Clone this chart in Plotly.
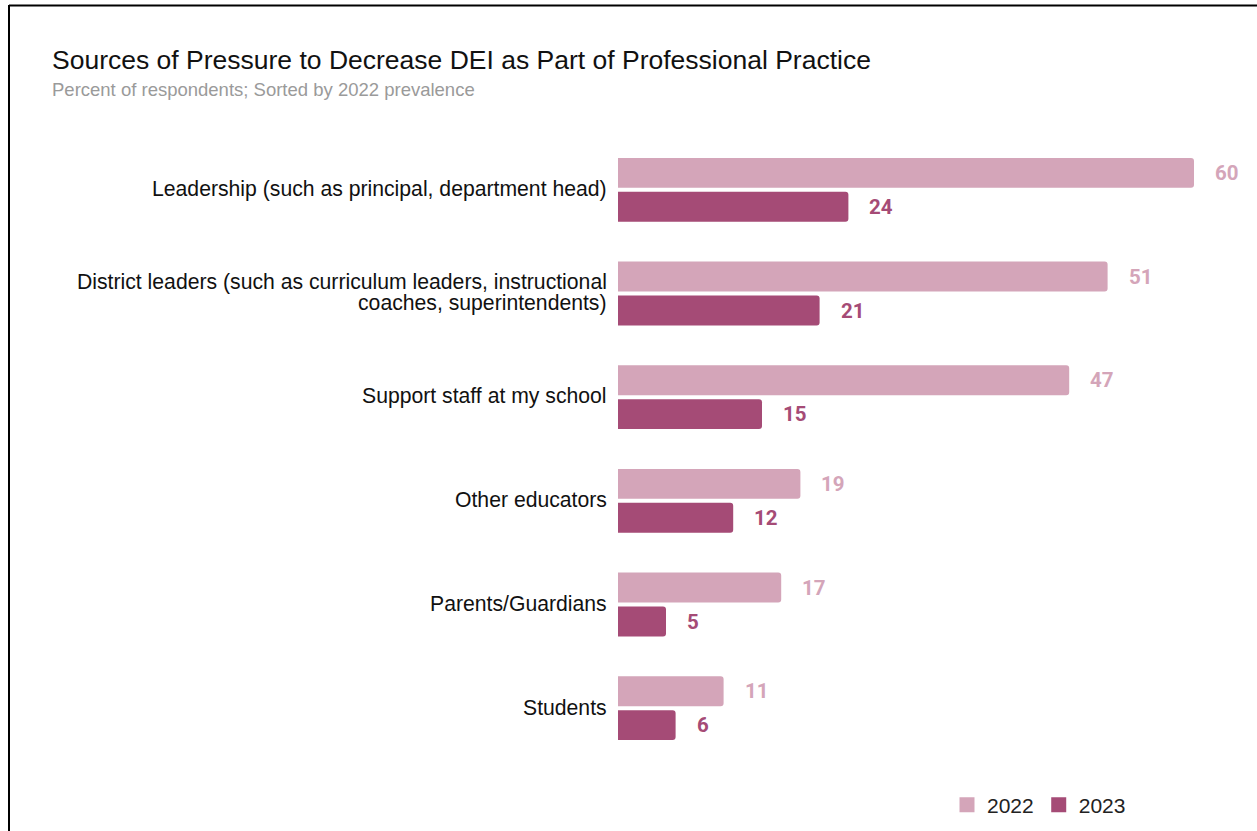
import plotly.graph_objects as go

# Survey data: share of respondents naming each source of pressure
categories = [
    "Leadership (such as principal, department head)",
    "District leaders (such as curriculum leaders, instructional<br>coaches, superintendents)",
    "Support staff at my school",
    "Other educators",
    "Parents/Guardians",
    "Students",
]
values_2022 = [60, 51, 47, 19, 17, 11]
values_2023 = [24, 21, 15, 12, 5, 6]
series_names = ["2022", "2023"]

COLOR_2022 = "#d4a5b9"
COLOR_2023 = "#a54b76"
SANS = "Liberation Sans, Arial, sans-serif"

W, H = 1257, 831
L, R, T, B = 618, 15, 138, 71
PW, PH = W - L - R, H - T - B


def px_x(px):
    return (px - L) / PW


def px_y(py):
    return (H - B - py) / PH


fig = go.Figure()
for name, vals, col in [
    (series_names[0], values_2022, COLOR_2022),
    (series_names[1], values_2023, COLOR_2023),
]:
    fig.add_trace(go.Bar(
        name=name,
        y=categories,
        x=vals,
        orientation="h",
        marker=dict(color=col, line=dict(width=0), cornerradius=3),
        hoverinfo="x+y",
        showlegend=False,
    ))

# Legend entries with larger square swatches
for name, col in [(series_names[0], COLOR_2022), (series_names[1], COLOR_2023)]:
    fig.add_trace(go.Scatter(
        name=name, x=[None], y=[None], mode="markers",
        marker=dict(symbol="square", size=15, color=col),
        showlegend=True, hoverinfo="skip",
    ))

# Value labels to the right of each bar
for vals, col, shift in [(values_2022, COLOR_2022, 17), (values_2023, COLOR_2023, -17)]:
    for cat, v in zip(categories, vals):
        fig.add_annotation(
            x=v, y=cat, xref="x", yref="y",
            text=f"<b>{v}</b>", showarrow=False,
            xanchor="left", yanchor="middle",
            xshift=19, yshift=shift,
            font=dict(family="Roboto, sans-serif", size=20.5, color=col),
        )

# Category labels, right-aligned next to the bars (tight line spacing)
LINE_GAP = 21
for cat in categories:
    lines = cat.split("<br>")
    n = len(lines)
    for i, line in enumerate(lines):
        fig.add_annotation(
            x=px_x(609), y=cat, xref="paper", yref="y",
            text=line, showarrow=False,
            xanchor="right", yanchor="middle",
            yshift=((n - 1) / 2 - i) * LINE_GAP + 1,
            font=dict(family=SANS, size=21.2, color="#111111"),
        )

# Title and subtitle
fig.add_annotation(
    x=px_x(50), y=px_y(60), xref="paper", yref="paper",
    text="Sources of Pressure to Decrease DEI as Part of Professional Practice",
    showarrow=False, xanchor="left", yanchor="middle",
    font=dict(family=SANS, size=26.5, color="#111111"),
)
fig.add_annotation(
    x=px_x(50), y=px_y(89), xref="paper", yref="paper",
    text="Percent of respondents; Sorted by 2022 prevalence",
    showarrow=False, xanchor="left", yanchor="middle",
    font=dict(family=SANS, size=18.5, color="#9a9a9a"),
)

# Frame lines along the top and left edges
fig.add_shape(type="line", xref="paper", yref="paper",
              x0=px_x(9), x1=px_x(W + 5), y0=px_y(5.5), y1=px_y(5.5),
              line=dict(color="#000000", width=2))
fig.add_shape(type="line", xref="paper", yref="paper",
              x0=px_x(9), x1=px_x(9), y0=px_y(5), y1=px_y(H + 5),
              line=dict(color="#000000", width=2))

fig.update_layout(
    width=W, height=H,
    margin=dict(l=L, r=R, t=T, b=B, pad=0, autoexpand=False),
    paper_bgcolor="white", plot_bgcolor="white",
    barmode="group",
    bargap=0.345,
    bargroupgap=0.1176,
    font=dict(family=SANS, size=21, color="#111111"),
    xaxis=dict(range=[0, 65], visible=False, fixedrange=True),
    yaxis=dict(
        autorange="reversed", showgrid=False, showline=False, zeroline=False,
        ticks="", showticklabels=False,
    ),
    legend=dict(
        orientation="h", xanchor="right", yanchor="middle",
        x=px_x(1131), y=px_y(805),
        font=dict(family=SANS, size=21, color="#222222"),
        bgcolor="rgba(0,0,0,0)",
    ),
    showlegend=True,
)

fig.write_html("out.html")
